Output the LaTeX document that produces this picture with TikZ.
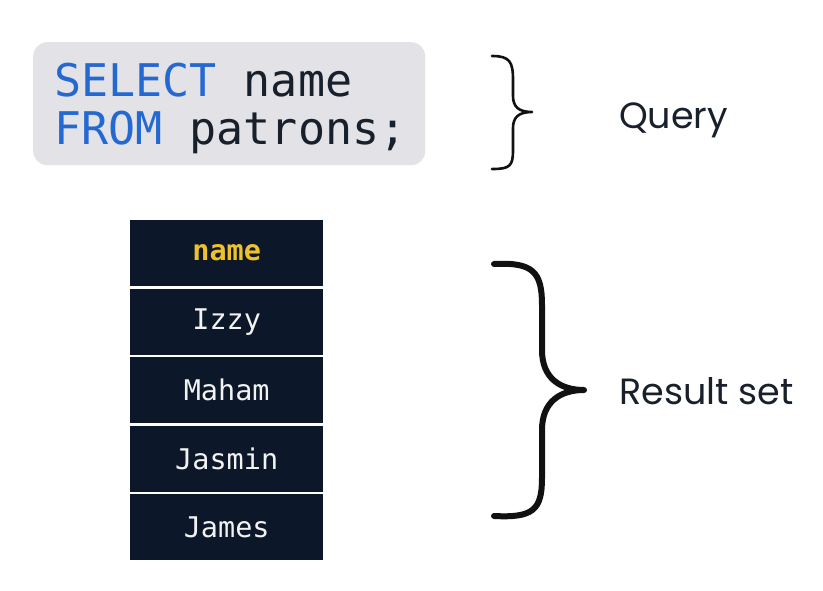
\documentclass[tikz,border=0pt]{standalone}
\usepackage{fontspec}
\setmonofont{DejaVu Sans Mono}
\newfontfamily\labelfont{Poppins}
\definecolor{qbg}{HTML}{E2E2E7}
\definecolor{kw}{HTML}{2468D2}
\definecolor{ink}{HTML}{18202C}
\definecolor{navy}{HTML}{0C1829}
\definecolor{gold}{HTML}{EEC22A}
\definecolor{cellfg}{HTML}{F2F2F2}
\definecolor{bracecol}{HTML}{111111}
\begin{document}
\begin{tikzpicture}[x=1pt,y=-1pt,
  cell/.style={fill=navy,draw=none,minimum width=193pt,minimum height=66pt,inner sep=0pt,
    font=\ttfamily\fontsize{28.5}{28.5}\selectfont,text=cellfg,anchor=north west},
  lbl/.style={font=\labelfont\fontsize{36.5}{36.5}\selectfont,text=ink,anchor=base west,inner sep=0pt},
  code/.style={anchor=west,inner sep=0pt,font=\ttfamily\fontsize{45}{45}\selectfont,text=ink},
  brace/.style={draw=bracecol,line cap=round,line join=round}]
\useasboundingbox (0,0) rectangle (823,590);
\fill[white] (0,0) rectangle (823,590);
\node[fill=qbg,rounded corners=14pt,minimum width=392pt,minimum height=123pt,anchor=north west,inner sep=0pt] (qbox) at (33,42) {};
\node[code] (l1) at (54,80) {\textcolor{kw}{SELECT} name};
\node[code] (l2) at (54,132) {\textcolor{kw}{FROM} patrons;};
\node[cell,text=gold,font=\ttfamily\bfseries\fontsize{28.5}{28.5}\selectfont] (h) at (130,220) {name};
\node[cell] (r1) at (130,288.5) {Izzy};
\node[cell] (r2) at (130,357) {Maham};
\node[cell] (r3) at (130,425.5) {Jasmin};
\node[cell] (r4) at (130,494) {James};
\draw[brace,line width=2.6pt] (492,56) .. controls (510,56) and (513,62) .. (513,80) -- (513,96)
  .. controls (513,107) and (519,112) .. (532,112)
  .. controls (519,112) and (513,117) .. (513,128) -- (513,150)
  .. controls (513,166) and (510,169) .. (492,169);
\draw[brace,line width=6pt] (494,264) .. controls (533,262) and (542,272) .. (542,305) -- (542,350)
  .. controls (542,378) and (560,390) .. (584,390)
  .. controls (560,390) and (542,402) .. (542,430) -- (542,478)
  .. controls (542,510) and (533,518) .. (494,516);
\node[lbl] (q) at (619,128) {Query};
\node[lbl] (rs) at (619,404) {Result set};
\end{tikzpicture}
\end{document}
